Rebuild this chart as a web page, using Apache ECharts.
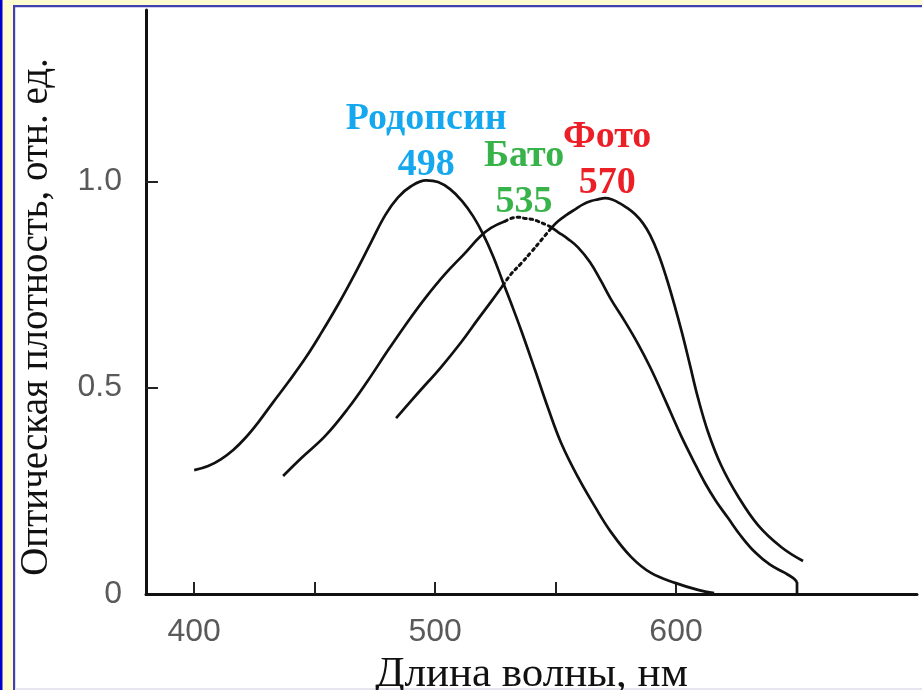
<!DOCTYPE html>
<html><head><meta charset="utf-8">
<script src="https://cdn.jsdelivr.net/npm/echarts@6/dist/echarts.min.js"></script>
<style>html,body{margin:0;padding:0;background:#fff}#c{width:922px;height:690px}</style>
</head><body><div id="c"></div>
<script>
// Wavelength (nm) and optical density (rel. units)
const rhodopsin = [[400.0,0.300],[405.8,0.310],[411.2,0.327],[416.2,0.349],[421.2,0.378],[426.6,0.416],[432.8,0.465],[439.0,0.513],[446.1,0.571],[452.7,0.632],[459.8,0.702],[466.8,0.777],[473.4,0.852],[479.3,0.918],[484.6,0.961],[490.0,0.988],[496.3,1.002],[501.2,0.998],[506.2,0.981],[511.2,0.952],[515.8,0.915],[519.9,0.872],[524.1,0.818],[528.2,0.755],[531.5,0.705],[535.7,0.639],[541.5,0.542],[546.9,0.450],[552.3,0.366],[559.3,0.283],[566.4,0.211],[573.0,0.150],[581.3,0.090],[589.6,0.051],[599.6,0.027],[609.1,0.010],[615.8,0.002]];
const batoSolidA = [[436.9,0.286],[444.4,0.329],[454.4,0.383],[463.9,0.450],[472.2,0.518],[480.5,0.591],[488.8,0.661],[495.9,0.717],[504.1,0.775],[512.4,0.826],[518.7,0.866],[523.2,0.887],[529.0,0.903]];
const batoDotted = [[529.0,0.903],[531.5,0.910],[534.4,0.913],[537.3,0.910],[540.2,0.908],[542.7,0.903],[545.6,0.896],[548.1,0.889]];
const batoSolidB = [[548.1,0.889],[551.0,0.877],[555.2,0.860],[559.3,0.840],[564.3,0.804],[568.9,0.758],[573.0,0.714],[578.8,0.660],[584.2,0.606],[589.2,0.550],[593.8,0.492],[597.9,0.438],[602.1,0.383],[607.1,0.324],[612.0,0.269],[616.6,0.225],[621.6,0.184],[627.0,0.140],[632.8,0.101],[639.0,0.071],[645.2,0.051],[648.5,0.039],[650.2,0.029]];
const batoDrop = [[650.2,0.029],[650.2,0.0]];
const fotoSolidA = [[483.8,0.426],[492.9,0.487],[502.5,0.550],[510.8,0.610],[517.8,0.666],[523.7,0.712],[528.2,0.748]];
const fotoDotted = [[528.2,0.748],[531.5,0.775],[535.7,0.801],[539.8,0.828],[544.0,0.857],[548.1,0.886]];
const fotoSolidB = [[548.1,0.886],[551.0,0.903],[554.4,0.918],[558.1,0.932],[561.4,0.944],[564.7,0.952],[567.6,0.956],[570.5,0.959],[573.4,0.956],[575.9,0.949],[579.3,0.937],[583.0,0.920],[586.3,0.898],[589.2,0.870],[592.5,0.826],[595.9,0.768],[599.2,0.703],[602.5,0.632],[605.8,0.554],[609.1,0.475],[613.3,0.392],[618.7,0.312],[625.7,0.237],[634.0,0.167],[643.6,0.114],[652.7,0.080]];
// Peak annotations
const annoNames = ['Родопсин','Бато','Фото'];
const annoPeaks = ['498','535','570'];
const annoPos = [[496.3,1.094],[536.9,1.005],[571.4,1.050]];
const annoColors = ['#16a8ee','#37b34a','#ec1f26'];
// Axis ticks / labels
const xTicks = [400,450,500,550,600,650];
const xLabels = [400,500,600];
const yTicks = [0.5,1.0];
const yLabels = [0,0.5,1.0];

const chart = echarts.init(document.getElementById('c'), null, {renderer:'canvas'});
const lineBase = {type:'line', smooth:0.4, symbol:'none', silent:true, z:3};
function solid(d){return Object.assign({}, lineBase, {data:d, lineStyle:{color:'#111', width:2.7}});}
function dotted(d){return Object.assign({}, lineBase, {data:d, lineStyle:{color:'#111', width:3, type:[2.5,4], cap:'round'}});}

const option = {
  backgroundColor:'#ffffff',
  animation:false,
  grid:{left:146, right:5, top:10, bottom:96, containLabel:false, outerBoundsMode:'none'},
  xAxis:{
    type:'value', min:380, max:700,
    name:'Длина волны, нм', nameLocation:'middle', nameGap:56,
    nameTextStyle:{fontFamily:'Liberation Serif', fontSize:43, color:'#111'},
    axisLine:{show:true, onZero:false, lineStyle:{color:'#111', width:3}},
    axisTick:{show:true, inside:true, length:12, customValues:xTicks, lineStyle:{color:'#222', width:2}},
    axisLabel:{customValues:xLabels, margin:22, fontFamily:'Liberation Sans', fontSize:32, color:'#5a5a5a'},
    splitLine:{show:false}
  },
  yAxis:{
    type:'value', min:0, max:1.415,
    name:'Оптическая плотность, отн. ед.', nameLocation:'middle', nameGap:90,
    nameTextStyle:{fontFamily:'Liberation Serif', fontSize:39, color:'#111', padding:[0,30,0,0]},
    axisLine:{show:true, onZero:false, lineStyle:{color:'#111', width:3}},
    axisTick:{show:true, inside:true, length:12, customValues:yTicks, lineStyle:{color:'#222', width:2}},
    axisLabel:{customValues:yLabels, margin:24, fontFamily:'Liberation Sans', fontSize:32, color:'#5a5a5a',
      formatter:v => v===0 ? '0' : v.toFixed(1)},
    splitLine:{show:false}
  },
  series:[
    solid(rhodopsin),
    solid(batoSolidA), dotted(batoDotted), solid(batoSolidB),
    Object.assign(solid(batoDrop), {smooth:false}),
    solid(fotoSolidA), dotted(fotoDotted), solid(fotoSolidB),
    {
      type:'scatter', symbolSize:0, silent:true, z:5,
      itemStyle:{opacity:1},
      data: annoPos.map((p,i)=>({value:p,
        label:{show:true, position:'inside', opacity:1,
          formatter: annoNames[i] + '\n' + annoPeaks[i],
          color:annoColors[i], fontFamily:'Liberation Serif', fontWeight:'bold', fontSize:38, lineHeight:46, align:'center'}}))
    }
  ],
  graphic:[
    {type:'rect', shape:{x:0,y:0,width:922,height:5}, style:{fill:'#fffbd0'}, silent:true},
    {type:'rect', shape:{x:0,y:0,width:13,height:690}, style:{fill:'#fffbd0'}, silent:true},
    {type:'rect', shape:{x:0,y:0,width:2.5,height:690}, style:{fill:'#0000d0'}, silent:true},
    {type:'rect', shape:{x:13,y:5,width:909,height:2.2}, style:{fill:'#4040b4'}, silent:true},
    {type:'rect', shape:{x:13,y:5,width:2.2,height:685}, style:{fill:'#4040b4'}, silent:true},
    {type:'rect', shape:{x:15,y:688,width:907,height:2}, style:{fill:'#e6e6f0'}, silent:true}
  ]
};
chart.setOption(option);
</script></body></html>
